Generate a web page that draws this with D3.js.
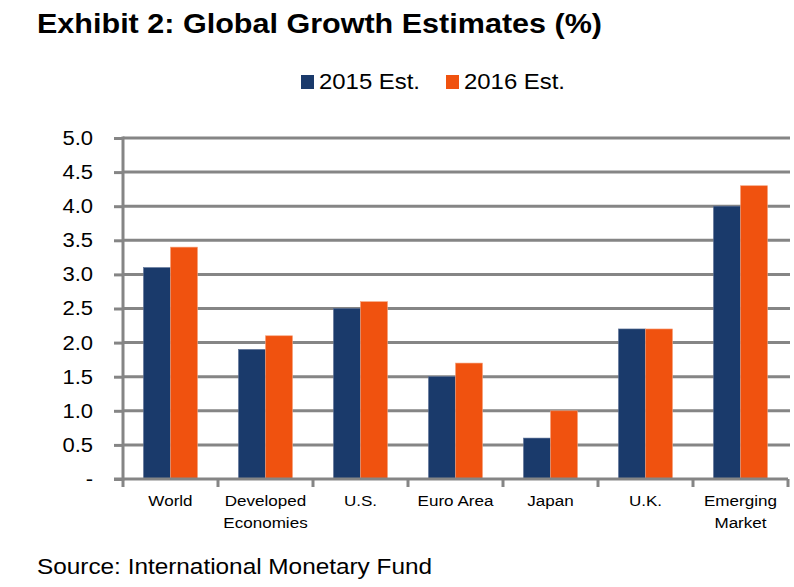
<!DOCTYPE html>
<html><head><meta charset="utf-8">
<script src="https://cdn.jsdelivr.net/npm/d3@7"></script>
<style>body{margin:0;background:#fff;} text{font-family:"Liberation Sans",Arial,sans-serif;}</style>
</head><body>
<svg id="c" width="794" height="587"></svg>
<script>
const categories = [["World"],["Developed","Economies"],["U.S."],["Euro Area"],["Japan"],["U.K."],["Emerging","Market"]];
const series2015 = [3.1, 1.9, 2.5, 1.5, 0.6, 2.2, 4.0];
const series2016 = [3.4, 2.1, 2.6, 1.7, 1.0, 2.2, 4.3];
const seriesNames = ["2015 Est.", "2016 Est."];
const yTicks = [0, 0.5, 1.0, 1.5, 2.0, 2.5, 3.0, 3.5, 4.0, 4.5, 5.0];
const colors = ["#1a3a6b", "#f0520f"];

const svg = d3.select("#c");
const pLeft = 123, pRight = 788, pTop = 138, pBottom = 479;
const x = d3.scaleBand().domain(d3.range(categories.length)).range([pLeft, pRight]).paddingInner(0).paddingOuter(0);
const y = d3.scaleLinear().domain([0, 5]).range([pBottom, pTop]);
const barW = 27;

function stretch(node, f) {
  const w = node.getComputedTextLength();
  d3.select(node).attr("textLength", w * f).attr("lengthAdjust", "spacingAndGlyphs");
}

const title = svg.append("text").attr("x", 37).attr("y", 33).attr("font-size", 27).attr("font-weight", "bold").text("Exhibit 2: Global Growth Estimates (%)");
title.attr("textLength", 565).attr("lengthAdjust", "spacingAndGlyphs");

// legend
const lg = [{x: 301, t: seriesNames[0], c: colors[0]}, {x: 446, t: seriesNames[1], c: colors[1]}];
lg.forEach(d => {
  svg.append("rect").attr("x", d.x).attr("y", 75).attr("width", 13).attr("height", 14).attr("fill", d.c);
  svg.append("text").attr("x", d.x + 18).attr("y", 89).attr("font-size", 22).text(d.t)
    .attr("textLength", 101).attr("lengthAdjust", "spacingAndGlyphs");
});

// gridlines
svg.append("g").selectAll("line").data(yTicks.slice(1)).join("line")
  .attr("x1", pLeft).attr("x2", 790).attr("y1", d => y(d)).attr("y2", d => y(d))
  .attr("stroke", "#858585").attr("stroke-width", 3);

// y axis
const yAxis = d3.axisLeft(y).tickValues(yTicks).tickSize(9).tickPadding(21)
  .tickFormat(d => d === 0 ? "-" : d3.format(".1f")(d));
const yg = svg.append("g").attr("transform", `translate(${pLeft},0)`).call(yAxis);
yg.select(".domain").attr("stroke", "#858585").attr("stroke-width", 3).attr("d", `M0,${pTop-1.5}V${pBottom+1.5}`);
yg.selectAll(".tick line").attr("stroke", "#858585").attr("stroke-width", 3);
yg.selectAll(".tick text").attr("font-size", 20).attr("fill", "#000").attr("font-family", '"Liberation Sans",Arial,sans-serif')
  .each(function() { stretch(this, 1.1); });

// bars
const g = svg.append("g");
categories.forEach((c, i) => {
  const cx = x(i) + x.bandwidth() / 2;
  [series2015[i], series2016[i]].forEach((v, j) => {
    g.append("rect").attr("x", cx - barW + j * barW).attr("y", y(v)).attr("width", barW).attr("height", y(0) - y(v))
      .attr("fill", colors[j]).attr("stroke", j === 0 ? "#5a6f95" : "#f5a07a").attr("stroke-width", 0.6);
  });
});

// x axis baseline and ticks
svg.append("line").attr("x1", pLeft - 9).attr("x2", pRight).attr("y1", pBottom).attr("y2", pBottom).attr("stroke", "#858585").attr("stroke-width", 3);
svg.append("g").selectAll("line").data(d3.range(categories.length + 1)).join("line")
  .attr("x1", i => i < categories.length ? x(i) : pRight).attr("x2", i => i < categories.length ? x(i) : pRight)
  .attr("y1", pBottom).attr("y2", pBottom + 8).attr("stroke", "#858585").attr("stroke-width", 3);

// x labels
svg.append("g").selectAll("text").data(categories).join("text")
  .attr("x", (d, i) => x(i) + x.bandwidth() / 2).attr("y", 506).attr("text-anchor", "middle").attr("font-size", 15.5)
  .each(function(d) {
    const tx = d3.select(this).attr("x");
    d3.select(this).selectAll("tspan").data(d).join("tspan")
      .attr("x", tx).attr("dy", (t, k) => k === 0 ? 0 : 22).text(t => t)
      .each(function() { stretch(this, 1.1); });
  });

svg.append("text").attr("x", 37).attr("y", 574).attr("font-size", 22).text("Source: International Monetary Fund")
  .attr("textLength", 395).attr("lengthAdjust", "spacingAndGlyphs");
</script>
</body></html>
